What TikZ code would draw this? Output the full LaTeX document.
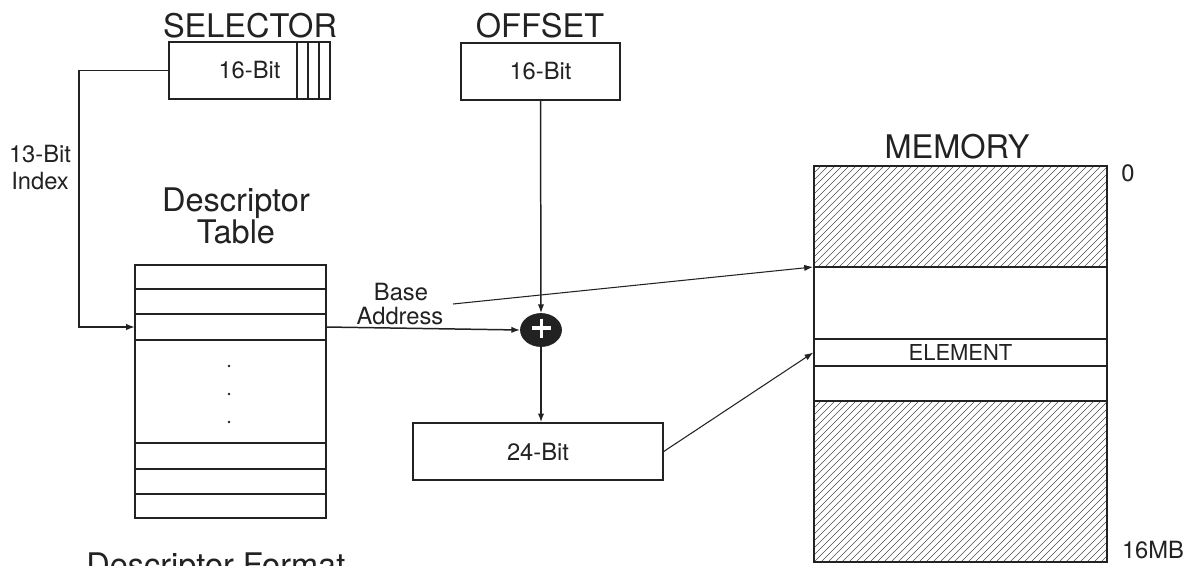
\documentclass[tikz,border=0pt]{standalone}
\usepackage{fontspec}
\setmainfont{TeX Gyre Heros}
\usetikzlibrary{shapes.geometric,arrows.meta}
\definecolor{ink}{HTML}{222222}
\tikzset{
  box/.style={draw=ink,line width=0.8pt,rectangle,inner sep=0pt,text=ink,font=\fontsize{13.5}{14}\selectfont},
  title/.style={text=ink,font=\fontsize{18.5}{19}\selectfont,inner sep=0pt,anchor=base},
  small/.style={text=ink,font=\fontsize{13.5}{14}\selectfont,inner sep=0pt,anchor=base},
  wire/.style={draw=ink,line width=0.85pt},
  thinwire/.style={draw=ink,line width=0.6pt},
  arr/.style={-{Latex[length=5pt,width=3.6pt]}},
  hatch/.style={draw=ink!80,line width=0.35pt}
}
\begin{document}
\begin{tikzpicture}[x=0.02cm,y=-0.02cm]
\useasboundingbox[fill=white] (0,0) rectangle (1196,565);

% ---- Selector ----
\node[title] (seltitle) at (250,37) {SELECTOR};
\node[box,minimum width=161*0.02cm,minimum height=57*0.02cm] (sel) at (249.5,70.5) {16-Bit};
\draw[wire] (297,42) -- (297,99) (308,42) -- (308,99) (319,42) -- (319,99);

% ---- Offset ----
\node[title] (offtitle) at (540,37) {OFFSET};
\node[box,minimum width=159*0.02cm,minimum height=57*0.02cm] (off) at (540.5,71.5) {16-Bit};

% ---- Index label ----
\node[small] (idx1) at (40,162) {13-Bit};
\node[small] (idx2) at (40,189) {Index};

% ---- Descriptor table ----
\node[title] (dt1) at (236,211) {Descriptor};
\node[title] (dt2) at (236,243) {Table};
\node[box,minimum width=191*0.02cm,minimum height=253*0.02cm] (tbl) at (230.5,391.5) {};
\foreach \yy in {289,314,340,443,469,494}{\draw[wire] (135,\yy) -- (326,\yy);}
\foreach \yy in {366,394,422}{\fill[ink] (229,\yy) circle (1.3);}
\coordinate (row3) at (135,327);
\coordinate (row3e) at (326,327);
\coordinate (bend) at (79,200);

\node[title,anchor=base west] (dfmt) at (86,576) {Descriptor Format};

% ---- Adder ----
\node[ellipse,fill=ink,draw=ink,minimum width=41*0.02cm,minimum height=33*0.02cm,inner sep=0pt] (plus) at (541,330) {};
\draw[white,line width=1.8pt] (532,328) -- (551,328) (541.5,318.5) -- (541.5,337.5);

% ---- Base address label ----
\node[small] (base1) at (401,300) {Base};
\node[small] (base2) at (400,324) {Address};
\coordinate (bstart) at (453,304);

% ---- 24-bit ----
\node[box,minimum width=250*0.02cm,minimum height=57*0.02cm] (b24) at (538,451.5) {24-Bit};

% ---- Memory ----
\node[title] (memtitle) at (957,158) {MEMORY};
\begin{scope}
  \clip (814,166) rectangle (1107,267);
  \foreach \x in {713,720,...,1110}{\draw[hatch] (\x,267) -- (\x+101,166);}
\end{scope}
\begin{scope}
  \clip (814,401) rectangle (1107,562);
  \foreach \x in {653,660,...,1110}{\draw[hatch] (\x,562) -- (\x+161,401);}
\end{scope}
\node[box,minimum width=293*0.02cm,minimum height=396*0.02cm] (mem) at (960.5,364) {};
\draw[wire] (814,267) -- (1107,267) (814,401) -- (1107,401);
\node[box,minimum width=293*0.02cm,minimum height=27*0.02cm,font=\fontsize{12.5}{13}\selectfont] (elem) at (960.5,352.5) {ELEMENT};
\coordinate (memtop) at (813,267);
\node[small] (zero) at (1128,181) {0};
\node[small] (mb) at (1153,558) {16MB};

% ---- Connectors ----
\draw[wire,arr] (sel.west) -| (bend) |- (row3);
\draw[wire,arr] (row3e) -- (plus.west);
\draw[wire,arr] (off.south) -- (plus.north);
\draw[wire,arr] (plus.south) -- (plus.south |- b24.north);
\draw[thinwire,arr] (bstart) -- (memtop);
\draw[thinwire,arr] (b24.east) -- (elem.west);
\end{tikzpicture}
\end{document}
